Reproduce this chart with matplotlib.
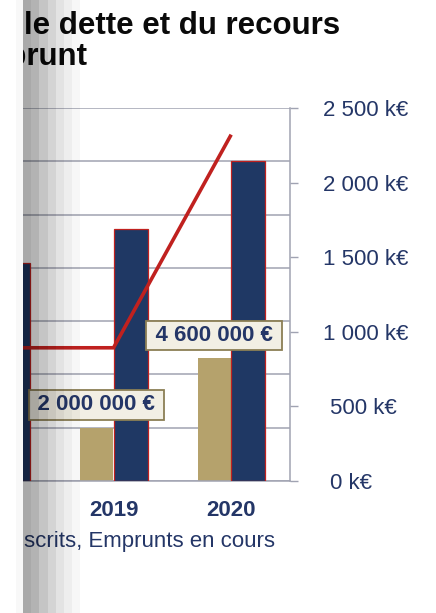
import numpy as np
import matplotlib
matplotlib.use('Agg')
import matplotlib.pyplot as plt
import matplotlib.ticker as ticker
from matplotlib.transforms import ScaledTranslation

plt.rcParams['font.family'] = ['Liberation Sans', 'DejaVu Sans']

years = ['2018', '2019', '2020']
souscrits = [0, 2000000, 4600000]          # Emprunts souscrits (axe gauche, €)
souscrits_labels = ['', '2 000 000 €', '4 600 000 €']
en_cours = [1460, 1690, 2145]              # Emprunts en cours (axe droit, k€)
ligne = [5000000, 5000000, 13000000]       # courbe (axe gauche, €)
right_ticks = [0, 500, 1000, 1500, 2000, 2500]

navy = '#1f3864'
tan = '#b5a26c'
red = '#c0211f'
grid_c = '#a0a3b2'
txt = '#243667'

W, H = 436, 613
fig = plt.figure(figsize=(W / 100, H / 100), dpi=100)

# zone du graphe (le bord gauche sort de l'image)
left, right, top, bottom = -63, 290, 108, 481
ax = fig.add_axes([left / W, 1 - bottom / H, (right - left) / W, (bottom - top) / H])
ax2 = ax.twinx()

x = np.arange(len(years))
ax.set_xlim(-0.5, 2.5)
ax.set_ylim(0, 14000000)
ax.yaxis.set_major_locator(ticker.MultipleLocator(2000000))
ax.grid(axis='y', color=grid_c, linewidth=1.1)
ax.set_axisbelow(True)
ax.tick_params(axis='y', left=False, labelleft=False)
ax.tick_params(axis='x', length=0, pad=14, labelsize=16, labelcolor=txt)
ax.set_xticks(x)
ax.set_xticklabels(years, fontweight='bold')
for s in ['top', 'left', 'right']:
    ax.spines[s].set_visible(False)
ax.spines['bottom'].set_color(grid_c)
ax.spines['bottom'].set_linewidth(1.1)

ax.bar(x - 0.145, souscrits, width=0.28, color=tan, zorder=2)

ax2.set_ylim(0, 2500)
ax2.bar(x + 0.145, en_cours, width=0.29, color=navy, edgecolor=red, linewidth=0.9, zorder=2)
ax2.set_yticks(right_ticks)
ax2.set_yticklabels([f'{v:,} k€'.replace(',', ' ') for v in right_ticks])
ax2.tick_params(axis='y', direction='out', length=6, width=1, color=grid_c,
                labelsize=16, labelcolor=txt, pad=18)
for s in ['top', 'left', 'bottom']:
    ax2.spines[s].set_visible(False)
ax2.spines['right'].set_color(grid_c)
ax2.spines['right'].set_linewidth(1.1)

# courbe et étiquettes au-dessus des barres bleues, sur l'échelle de gauche
ax2.plot(x, ligne, color=red, linewidth=2.6, transform=ax.transData, zorder=3,
         solid_capstyle='butt')
for xi, v, lab in zip(x, souscrits, souscrits_labels):
    if lab:
        ax2.annotate('\u2009' + lab + '\u2009', xy=(xi - 0.145, v), xycoords=ax.transData,
                     xytext=(0, 16.5), textcoords='offset points',
                     ha='center', va='center', fontsize=16, fontweight='bold', color=txt,
                     bbox=dict(boxstyle='square,pad=0.2', fc='#f2efe4', ec='#8b7f55', lw=1.3),
                     zorder=4)

fig.canvas.draw()
for lab in ax2.get_yticklabels():
    if len(lab.get_text()) < 7:
        lab.set_transform(lab.get_transform() + ScaledTranslation(7 / 100, 0, fig.dpi_scale_trans))

fig.text(24 / W, 1 - 34 / H, 'le dette et du recours', fontsize=22.5, fontweight='bold',
         color='#0a0a0a', va='baseline')
fig.text(88 / W, 1 - 65 / H, "emprunt", fontsize=22.5, fontweight='bold',
         color='#0a0a0a', va='baseline', ha='right')
fig.text(24 / W, 1 - 547 / H, 'scrits, Emprunts en cours', fontsize=16, color=txt,
         va='baseline')

# ombre grise du bord gauche
ov = fig.add_axes([0, 0, 80 / W, 1], zorder=50)
shade = np.zeros((1, 80, 4))
shade[0, :16] = [1, 1, 1, 1]
shade[0, 16:23] = [0.975, 0.975, 0.975, 1]
alphas = [0.34, 0.30, 0.23, 0.17, 0.11, 0.067, 0.035]
for i, a in enumerate(alphas):
    shade[0, 23 + 8 * i:31 + 8 * i] = [0, 0, 0, a]
ov.imshow(shade, aspect='auto', extent=(0, 80, 0, 1), interpolation='nearest')
ov.axis('off')

fig.savefig('out.png', dpi=100)
